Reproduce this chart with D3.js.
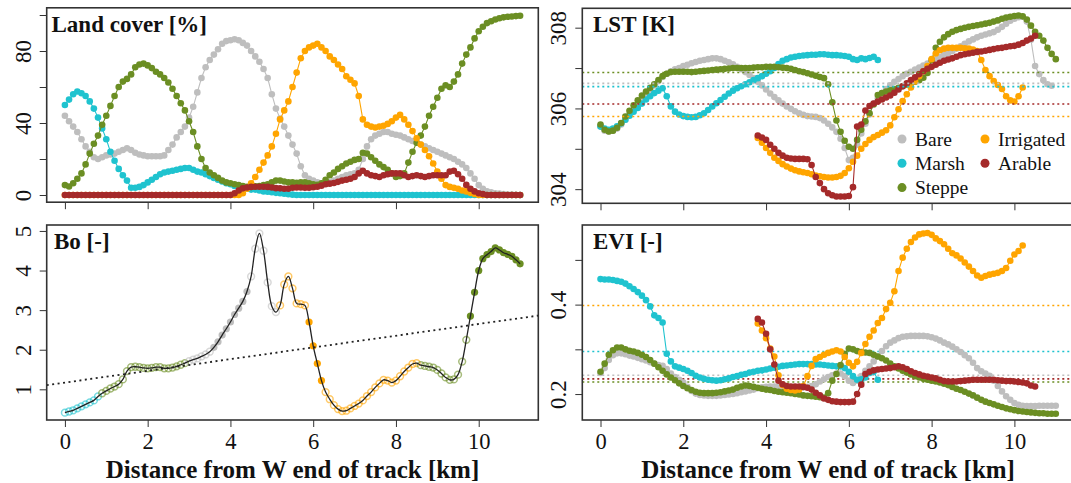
<!DOCTYPE html>
<html><head><meta charset="utf-8">
<script src="https://cdn.jsdelivr.net/npm/d3@7"></script>
<style>body{margin:0;background:#fff}svg{display:block}text{font-family:"Liberation Serif","Times New Roman",Times,serif}</style>
</head><body><svg id="c" width="1071" height="483"></svg>
<script>
// ---------------- DATA ----------------
const classes = ["Bare","Marsh","Steppe","Irrigated","Arable"];
const classColors = ["#bebebe","#1fc3cf","#6b8e23","#ffa500","#a52a2a"];
const STEP = 0.1; // km between samples along the track
const xTicks = [0,2,4,6,8,10];

// Land cover [%] (all start at 0 km)
const lcBare = [44,41,38,35,31,27,24,21,20,21, 22,22.5,23,24,25,26,25,23.5,22.5,22, 21.5,21.5,21.5,21.5,22,25,28,32,35,38, 43,49,57,65,71,75,78,81,84,85.5, 86,86.5,86,84.5,83,80,77,74,70,65, 56,48,42.5,38,33,28,23,16,11,9, 8,7,6.5,6.5,7,8,9,10,11,11.5, 12,14,20,27,31,33,34,35,35,34, 33.5,33,32,31,30,29,28,27,26,25, 24,23,22,21,20,18.5,17,15,12,9, 5.5,3.5,2,1.5,1,0.8,0.5,0.3,0.2,0.1, 0];
const lcMarsh = [50,53,56,57.5,56.5,55,52,48,43,37, 31,24,19,14.5,11,8,4,4,4.5,5.5, 7,8.5,10,11.5,12.5,13,13.5,14,14.5,15, 15,14,13,12.5,11.5,10.5,9.5,8.5,7.5,6.5, 6,5,4.5,4,3.5,3,3,2.5,2,1.8, 1.5,1.2,1,0.7,0.4,0.2,0,0,0,0, 0,0,0,0,0,0,0,0,0,0, 0,0,0,0,0,0,0,0,0,0, 0,0,0,0,0,0,0,0,0,0, 0,0,0,0,0,0,0,0,0,0, 0,0,0,0,0,0,0,0,0,0, 0];
const lcSteppe = [5.5,4.7,6.5,9,12,17,23,28.5,33,39, 44,49.5,55,60,63,64.5,67,71,72.5,73, 72,70.5,68.5,67,65,62.5,59,55,51,47, 41,35,27,20,15,12.5,11,9.5,8,7, 6.5,6,5.5,5,4.5,4.5,4.8,5,5.5,6, 7,8,8,7.5,7,7,6.8,7,7,6.5, 6,5.6,6.5,8.5,11,12.5,14.5,16,17.5,18.5, 19.5,20,23.5,23,21,19,17,15.5,14,12, 10,10.5,12,18,24,29,33,38,44,49, 54,59,61,60,63,67,73,78,82,87, 91,93.5,95.5,96.5,97.5,98.2,98.7,99,99.2,99.4, 99.6];
const lcIrrigated = [0,0,0,0,0,0,0,0,0,0, 0,0,0,0,0,0,0,0,0,0, 0,0,0,0,0,0,0,0,0,0, 0,0,0,0,0,0,0,0,0,0, 0,0,0,1,3.5,6.5,10,14,18,22, 27,34,42,47,52,60,68,76,80,82, 83,84,82,80,77,75,72.5,70,66,64, 62,55,42,39,38,37.5,38,38.5,39.5,41, 43,44.5,42,39,35.5,31.5,28,25,21.5,17.5, 13,9,5.5,4.5,4,3.5,2.5,2,1.2,0.6, 0,0,0,0,0,0,0,0,0,0, 0];
const lcArable = [0,0,0,0,0,0,0,0,0,0, 0,0,0,0,0,0,0,0,0,0, 0,0,0,0,0,0,0,0,0,0, 0,0,0,0,0,0,0,0,0,0, 0,1,2.5,3.7,4.2,4.5,4.6,4.6,4.6,4.5, 4.2,3.8,3.7,3.5,3.5,4,4.2,4.2,4,4, 4.3,4.6,5.2,6,6.3,6.7,7.3,8,8.5,9, 10,12,13.5,12,11,10.5,10,11,11.5,12, 12,12,11,10,10.5,11,10.5,10,10.5,11, 11,11,11,13,13.5,11.5,9,5.6,3.5,2, 1,0.5,0,0,0,0,0,0,0,0, 0];
const lcStart = [0,0,0,0,0];
const lcTicks = [0,20,40,60,80,100];
const lcLabels = [0,40,80];

// LST [K]
const lstBare = [305.55,305.45,305.43,305.45,305.5,305.6,305.72,305.85,305.98,306.1, 306.22,306.33,306.45,306.57,306.68,306.78,306.86,306.92,306.97,307.0, 307.05,307.08,307.12,307.15,307.18,307.2,307.22,307.24,307.24,307.22, 307.18,307.14,307.09,307.03,306.97,306.9,306.83,306.75,306.66,306.57, 306.47,306.37,306.28,306.2,306.12,306.05,305.99,305.93,305.88,305.84, 305.81,305.8,305.79,305.76,305.7,305.62,305.53,305.42,305.25,305.02, 304.72,304.78,305.1,305.38,305.62,305.85,306.12,306.25,306.38,306.48, 306.57,306.66,306.73,306.8,306.86,306.91,306.96,307.01,307.06,307.11, 307.16,307.21,307.27,307.32,307.37,307.42,307.48,307.54,307.6,307.66, 307.71,307.76,307.8,307.83,307.86,307.89,307.95,308.02,308.1,308.17, 308.22,308.26,308.27,308.15,307.7,307.05,306.85,306.7,306.6,306.56];
const lstMarsh = [305.55,305.5,305.47,305.5,305.56,305.63,305.72,305.82,305.92,306.01, 306.12,306.22,306.3,306.38,306.44,306.5,306.3,306.05,305.92,305.85, 305.81,305.79,305.78,305.79,305.83,305.88,305.96,306.05,306.13,306.21, 306.29,306.37,306.44,306.5,306.55,306.6,306.65,306.7,306.75,306.8, 306.86,306.92,307.0,307.1,307.18,307.22,307.26,307.28,307.3,307.31, 307.32,307.33,307.33,307.34,307.34,307.33,307.32,307.32,307.31,307.3, 307.28,307.22,307.2,307.24,307.22,307.25,307.28,307.2];
const lstSteppe = [305.6,305.47,305.43,305.45,305.52,305.64,305.8,305.94,306.08,306.2, 306.32,306.42,306.51,306.6,306.7,306.8,306.86,306.9,306.91,306.91, 306.91,306.91,306.9,306.91,306.92,306.93,306.94,306.95,306.96,306.97, 306.98,306.99,307.0,307.0,307.0,307.0,307.0,307.01,307.02,307.02, 307.03,307.03,307.03,307.02,307.01,307.0,306.98,306.95,306.92,306.9, 306.87,306.84,306.81,306.78,306.75,306.6,306.15,305.7,305.42,305.2, 305.05,305.0,305.22,305.47,305.68,305.88,306.1,306.33,306.38,306.42, 306.45,306.48,306.51,306.55,306.59,306.62,306.66,306.7,306.76,306.88, 307.2,307.5,307.65,307.76,307.84,307.9,307.94,307.97,308.0,308.02, 308.04,308.06,308.08,308.1,308.12,308.15,308.18,308.22,308.25,308.27, 308.29,308.3,308.28,308.2,308.05,307.9,307.8,307.68,307.5,307.35, 307.22];
const lstIrrigated = [305.27,305.15, 305.02,304.9,304.78,304.7,304.62,304.56,304.51,304.47,304.44,304.42, 304.4,304.37,304.34,304.32,304.3,304.29,304.29,304.3,304.33,304.4, 304.52,304.68,304.83,305.0,305.12,305.22,305.29,305.34,305.4,305.46, 305.58,305.78,305.98,306.18,306.35,306.52,306.67,306.8,306.92,307.05, 307.22,307.36,307.44,307.48,307.5,307.5,307.5,307.5,307.49,307.48, 307.46,307.42,307.2,306.95,306.8,306.68,306.58,306.48,306.3,306.2, 306.17,306.3,306.52];
const lstArable = [305.33,305.28, 305.22,305.1,305.0,304.9,304.83,304.78,304.76,304.75,304.75,304.75, 304.74,304.6,304.3,304.15,304.0,303.9,303.85,303.82,303.82,303.82, 303.83,304.05,305.55,305.6,305.95,306.06,306.12,306.17,306.22,306.27, 306.32,306.39,306.47,306.55,306.62,306.7,306.77,306.85,306.92,306.98, 307.03,307.08,307.13,307.18,307.21,307.24,307.28,307.32,307.34,307.36, 307.38,307.4,307.41,307.43,307.45,307.47,307.49,307.5,307.52,307.54, 307.55,307.58,307.62,307.68,307.73,307.8];
const lstStart = [0,0,0,3.8,3.8];
const lstMeans = [306.62,306.54,306.89,305.8,306.11];
const lstTicks = [304,305,306,307,308];
const lstLabels = [304,306,308];

// Bowen ratio Bo [-]
const boValues = [0.41,0.44,0.47,0.52,0.57,0.62,0.67,0.72,0.82,0.9, 0.96,1.02,1.07,1.13,1.25,1.46,1.56,1.57,1.56,1.54, 1.53,1.54,1.56,1.56,1.53,1.53,1.55,1.58,1.62,1.66, 1.71,1.75,1.78,1.83,1.88,1.95,2.06,2.2,2.37,2.53, 2.7,2.89,3.05,3.22,3.47,3.85,4.55,4.94,4.5,3.7, 3.1,2.95,3.12,3.65,3.85,3.55,3.17,3.15,3.12,2.7, 2.1,1.65,1.22,0.93,0.75,0.6,0.5,0.45,0.46,0.52, 0.58,0.64,0.72,0.83,0.93,1.05,1.15,1.24,1.22,1.17, 1.22,1.33,1.45,1.55,1.64,1.66,1.61,1.59,1.57,1.55, 1.49,1.4,1.3,1.24,1.25,1.37,1.7,2.25,2.85,3.45, 4.0,4.3,4.4,4.48,4.57,4.52,4.45,4.41,4.36,4.27, 4.17];
// runs of dominant class along the track: [first sample, last sample, class, filled]
const boRuns = [[0,8,"Marsh",false],[9,29,"Steppe",false],[30,35,"Bare",false],[36,44,"Bare",true],[45,51,"Bare",false],[52,58,"Irrigated",false],[59,62,"Irrigated",true],[63,85,"Irrigated",false],[86,97,"Steppe",false],[98,110,"Steppe",true]];
const boFit = [1.17,0.148]; // intercept, slope of dotted trend
const boTicks = [1,2,3,4,5];

// EVI [-]
const eviBare = [0.247,0.258,0.276,0.287,0.291,0.291,0.289,0.286,0.284,0.281, 0.278,0.275,0.271,0.268,0.265,0.263,0.256,0.246,0.238,0.232, 0.226,0.216,0.207,0.201,0.198,0.197,0.196,0.196,0.196,0.197, 0.198,0.199,0.2,0.202,0.204,0.206,0.208,0.21,0.213,0.215, 0.216,0.217,0.217,0.216,0.215,0.214,0.214,0.214,0.214,0.215, 0.216,0.218,0.222,0.228,0.233,0.238,0.242,0.246,0.246,0.24, 0.23,0.225,0.23,0.24,0.252,0.262,0.273,0.284,0.296,0.307, 0.315,0.32,0.325,0.328,0.329,0.33,0.33,0.33,0.33,0.329, 0.327,0.324,0.32,0.315,0.311,0.306,0.3,0.294,0.287,0.28, 0.27,0.258,0.251,0.246,0.241,0.23,0.218,0.206,0.195,0.187, 0.18,0.176,0.174,0.173,0.173,0.173,0.174,0.174,0.174,0.174, 0.174];
const eviMarsh = [0.457,0.456,0.456,0.455,0.453,0.451,0.447,0.441,0.435,0.428, 0.42,0.41,0.396,0.376,0.37,0.36,0.29,0.273,0.262,0.259, 0.256,0.252,0.247,0.241,0.237,0.234,0.232,0.231,0.23,0.231, 0.233,0.235,0.238,0.24,0.243,0.245,0.248,0.25,0.252,0.253, 0.255,0.257,0.259,0.261,0.263,0.264,0.265,0.266,0.267,0.267, 0.267,0.267,0.266,0.266,0.265,0.264,0.263,0.262,0.262,0.258, 0.25,0.24,0.232,0.233,0.237,0.247,0.25,0.232];
const eviSteppe = [0.25,0.268,0.288,0.298,0.304,0.304,0.3,0.297,0.295,0.292, 0.288,0.283,0.276,0.268,0.26,0.252,0.244,0.237,0.231,0.224, 0.218,0.213,0.209,0.205,0.203,0.202,0.202,0.202,0.203,0.204, 0.206,0.208,0.21,0.214,0.217,0.219,0.218,0.216,0.214,0.212, 0.21,0.209,0.207,0.205,0.204,0.203,0.202,0.2,0.199,0.197, 0.196,0.195,0.194,0.193,0.192,0.202,0.23,0.245,0.265,0.29, 0.302,0.3,0.296,0.294,0.293,0.292,0.288,0.284,0.28,0.275, 0.268,0.262,0.257,0.252,0.248,0.244,0.24,0.237,0.234,0.232, 0.23,0.228,0.226,0.223,0.22,0.216,0.212,0.209,0.205,0.201, 0.197,0.192,0.187,0.183,0.18,0.177,0.174,0.171,0.168,0.166, 0.164,0.162,0.161,0.16,0.159,0.158,0.157,0.157,0.156,0.156, 0.156];
const eviIrrigated = [0.358,0.342, 0.325,0.302,0.284,0.242,0.22,0.212,0.209,0.208,0.21,0.218, 0.24,0.263,0.278,0.283,0.288,0.292,0.295,0.298,0.295,0.283, 0.27,0.262,0.272,0.292,0.312,0.328,0.342,0.359,0.37,0.39, 0.404,0.43,0.475,0.505,0.525,0.54,0.55,0.557,0.559,0.56, 0.556,0.548,0.542,0.535,0.525,0.515,0.51,0.503,0.494,0.485, 0.475,0.465,0.46,0.464,0.467,0.469,0.471,0.475,0.482,0.498, 0.512,0.52,0.532];
const eviArable = [0.368,0.36, 0.335,0.3,0.266,0.23,0.222,0.218,0.217,0.217,0.217,0.216, 0.214,0.21,0.203,0.197,0.19,0.187,0.184,0.183,0.182,0.182, 0.182,0.183,0.2,0.221,0.245,0.25,0.253,0.255,0.256,0.257, 0.258,0.26,0.262,0.26,0.256,0.251,0.247,0.244,0.241,0.239, 0.237,0.235,0.232,0.229,0.228,0.228,0.228,0.229,0.23,0.231, 0.232,0.232,0.232,0.232,0.232,0.232,0.231,0.23,0.229,0.229, 0.228,0.227,0.226,0.224,0.219,0.217];
const eviStart = [0,0,0,3.8,3.8];
const eviMeans = [0.242,0.295,0.227,0.398,0.234];
const eviTicks = [0.2,0.3,0.4,0.5];
const eviLabels = [0.2,0.4];

const xTitle = "Distance from W end of track [km]";

// ---------------- DRAWING ----------------
const svg = d3.select("#c");
const defs = svg.append("defs");
const X_DOMAIN = [-0.44, 11.44];
const INK = "#333";

function toPoints(vals, start) {
  return vals.map((v, i) => ({ d: +(start + i * STEP).toFixed(2), v, i }));
}

function panel(p) {
  const x = d3.scaleLinear().domain(X_DOMAIN).range([p.left, p.right]);
  const y = d3.scaleLinear().domain(p.yDomain).range([p.bottom, p.top]);
  const g = svg.append("g");
  defs.append("clipPath").attr("id", "clip-" + p.id).append("rect")
    .attr("x", p.left).attr("y", p.top).attr("width", p.right - p.left).attr("height", p.bottom - p.top);
  const plot = g.append("g").attr("clip-path", `url(#clip-${p.id})`);

  // x axis
  const xa = g.append("g").attr("transform", `translate(0,${p.bottom})`)
    .call(d3.axisBottom(x).tickValues(xTicks).tickSize(7)
      .tickFormat(d => p.xLabels ? d3.format("d")(d) : ""));
  xa.select(".domain").remove();
  xa.selectAll(".tick line").attr("stroke", INK).attr("stroke-width", 1);
  xa.selectAll(".tick text").attr("y", 29).attr("dy", null)
    .attr("font-size", 22.5).attr("fill", "#111").attr("font-family", null);

  // y axis
  const ya = g.append("g").attr("transform", `translate(${p.left},0)`)
    .call(d3.axisLeft(y).tickValues(p.yTicks).tickSize(7)
      .tickFormat(d => p.yLabels.includes(d) ? p.fmt(d) : ""));
  ya.select(".domain").remove();
  ya.selectAll(".tick line").attr("stroke", INK).attr("stroke-width", 1);
  ya.selectAll(".tick text").attr("x", 0).attr("y", -16).attr("dy", null)
    .attr("transform", "rotate(-90)").attr("text-anchor", "middle")
    .attr("font-size", 23).attr("fill", "#111").attr("font-family", null);

  if (p.xLabels) {
    g.append("text").attr("x", (p.left + p.right) / 2).attr("y", 477.5)
      .attr("text-anchor", "middle").attr("font-size", 25).attr("font-weight", "bold")
      .attr("fill", "#111").text(xTitle);
  }
  return { x, y, g, plot, p };
}

function drawSeries(P, seriesList, starts) {
  const line = d3.line().x(d => P.x(d.d)).y(d => P.y(d.v));
  seriesList.forEach((vals, k) => {
    const pts = toPoints(vals, starts[k]);
    const s = P.plot.append("g");
    s.append("path").datum(pts).attr("d", line).attr("fill", "none")
      .attr("stroke", classColors[k]).attr("stroke-width", 1.1);
    s.selectAll("circle").data(pts).join("circle")
      .attr("cx", d => P.x(d.d)).attr("cy", d => P.y(d.v)).attr("r", 3.3)
      .attr("fill", classColors[k]);
  });
}

function drawMeans(P, means) {
  means.forEach((m, k) => {
    P.plot.append("line").attr("x1", P.p.left).attr("x2", P.p.right + 10)
      .attr("y1", P.y(m)).attr("y2", P.y(m))
      .attr("stroke", classColors[k]).attr("stroke-width", 1.6).attr("stroke-dasharray", "2,3");
  });
}

function finish(P, title, tx) {
  P.g.append("rect").attr("x", P.p.left).attr("y", P.p.top)
    .attr("width", P.p.right - P.p.left).attr("height", P.p.bottom - P.p.top)
    .attr("fill", "none").attr("stroke", INK).attr("stroke-width", 1.6);
  P.g.append("text").attr("x", tx).attr("y", P.p.top + 24)
    .attr("font-size", 23).attr("font-weight", "bold").attr("fill", "#111").text(title);
}

// Panel 1: Land cover
const P1 = panel({ id: "lc", left: 46.7, right: 538.3, top: 7.8, bottom: 202.2,
  yDomain: [-4, 104], yTicks: lcTicks, yLabels: lcLabels, fmt: d3.format("d"), xLabels: false });
drawSeries(P1, [lcBare, lcMarsh, lcSteppe, lcIrrigated, lcArable], lcStart);
finish(P1, "Land cover [%]", 51.5);

// Panel 2: LST
const P2 = panel({ id: "lst", left: 582.3, right: 1074, top: 8.3, bottom: 203.3,
  yDomain: [303.65, 308.48], yTicks: lstTicks, yLabels: lstLabels, fmt: d3.format("d"), xLabels: false });
drawSeries(P2, [lstBare, lstMarsh, lstSteppe, lstIrrigated, lstArable], lstStart);
drawMeans(P2, lstMeans);
finish(P2, "LST [K]", 593);
// legend (column-wise, 2 columns)
const legPos = [[902,139],[902,163.3],[902,187.6],[985,139],[985,163.3]];
classes.forEach((c, k) => {
  const lg = P2.g.append("g").attr("transform", `translate(${legPos[k][0]},${legPos[k][1]})`);
  lg.append("circle").attr("r", 4.5).attr("fill", classColors[k]);
  lg.append("text").attr("x", 13).attr("y", 6.5).attr("font-size", 19.5).attr("fill", "#111").text(c);
});

// Panel 3: Bo
const P3 = panel({ id: "bo", left: 46.7, right: 538.3, top: 225, bottom: 420,
  yDomain: [0.225, 5.15], yTicks: boTicks, yLabels: boTicks, fmt: d3.format("d"), xLabels: true });
const boPts = toPoints(boValues, 0);
boRuns.forEach(([a, b, cls, filled]) => {
  const col = classColors[classes.indexOf(cls)];
  P3.plot.append("g").selectAll("circle").data(boPts.slice(a, b + 1)).join("circle")
    .attr("cx", d => P3.x(d.d)).attr("cy", d => P3.y(d.v)).attr("r", filled ? 3.6 : 3.4)
    .attr("fill", filled ? col : "none").attr("stroke", col)
    .attr("stroke-width", filled ? 0 : 1.5).attr("stroke-opacity", filled ? 1 : 0.6);
});
P3.plot.append("path").datum(boPts)
  .attr("d", d3.line().x(d => P3.x(d.d)).y(d => P3.y(d.v)).curve(d3.curveCatmullRom.alpha(0.5)))
  .attr("fill", "none").attr("stroke", "#222").attr("stroke-width", 1.3);
P3.plot.append("line")
  .attr("x1", P3.x(X_DOMAIN[0])).attr("y1", P3.y(boFit[0] + boFit[1] * X_DOMAIN[0]))
  .attr("x2", P3.x(X_DOMAIN[1])).attr("y2", P3.y(boFit[0] + boFit[1] * X_DOMAIN[1]))
  .attr("stroke", "#222").attr("stroke-width", 1.8).attr("stroke-dasharray", "2,3.5");
finish(P3, "Bo [-]", 54);

// Panel 4: EVI
const P4 = panel({ id: "evi", left: 582.3, right: 1074, top: 225, bottom: 420,
  yDomain: [0.142, 0.578], yTicks: eviTicks, yLabels: eviLabels, fmt: d3.format(".1f"), xLabels: true });
drawMeans(P4, eviMeans);
drawSeries(P4, [eviBare, eviMarsh, eviSteppe, eviIrrigated, eviArable], eviStart);
finish(P4, "EVI [-]", 593);
</script></body></html>
